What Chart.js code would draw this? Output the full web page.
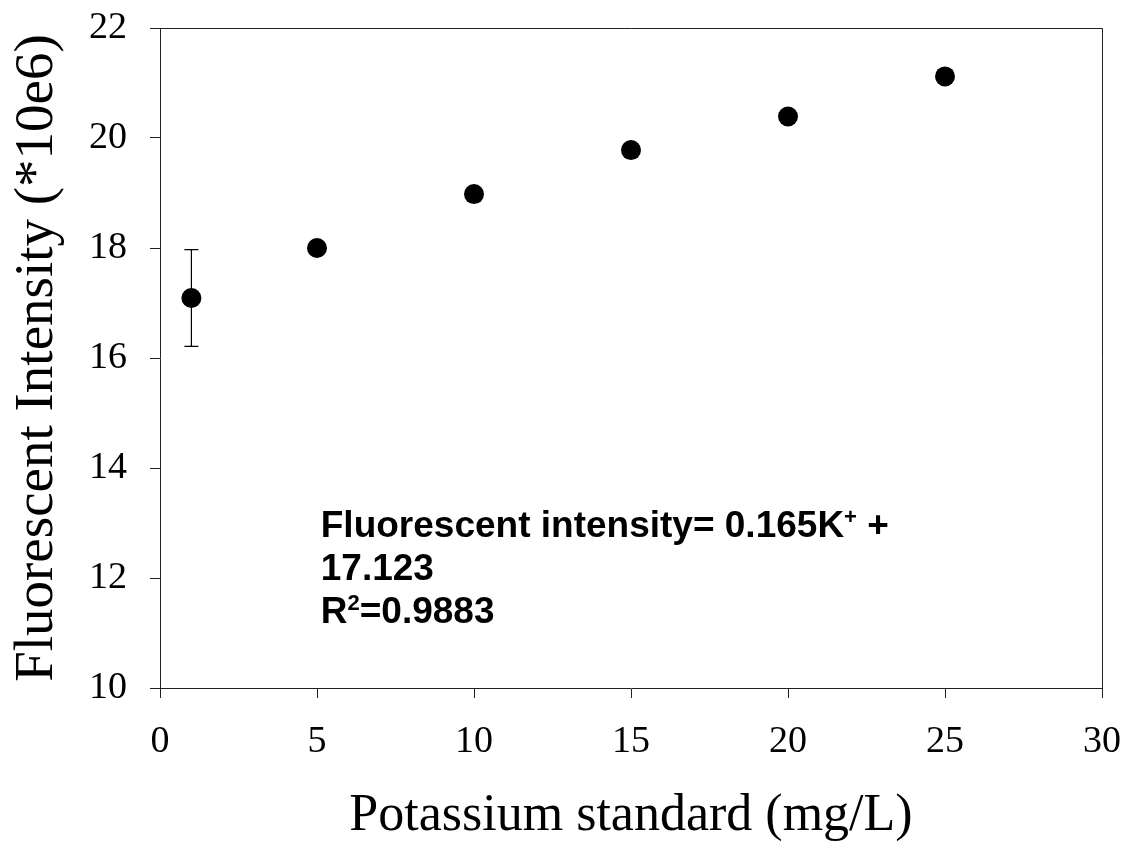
<!DOCTYPE html>
<html>
<head>
<meta charset="utf-8">
<script src="https://cdn.jsdelivr.net/npm/chart.js@4/dist/chart.umd.min.js"></script>
<style>
  html, body { margin: 0; padding: 0; background: #fff; }
  #wrap { width: 1128px; height: 848px; }
  canvas { display: block; }
</style>
</head>
<body>
<div id="wrap"><canvas id="chart" width="1128" height="848"></canvas></div>
<script>
// Potassium calibration: concentration (mg/L) vs fluorescent intensity (*10e6)
const concentrations = [1, 5, 10, 15, 20, 25];
const intensity = [17.09, 18.0, 18.98, 19.78, 20.39, 21.12];
const intensityError = [0.88, 0, 0, 0, 0, 0];

const xTickValues = [0, 5, 10, 15, 20, 25, 30];
const yTickValues = [10, 12, 14, 16, 18, 20, 22];

const xTitle = 'Potassium standard (mg/L)';
const yTitle = 'Fluorescent Intensity (*10e6)';

// Regression note: each line is a list of [text, isSuperscript] runs
const equationLines = [
  [['Fluorescent intensity= 0.165K', false], ['+', true], [' +', false]],
  [['17.123', false]],
  [['R', false], ['2', true], ['=0.9883', false]]
];
// Anchor of the note in data units (concentration, intensity)
const equationAnchor = { x: 5.12, y: 12.74 };

const SERIF = '"Liberation Serif", "Times New Roman", serif';
const SANS = '"Liberation Sans", Arial, sans-serif';
const AXIS_COLOR = '#222';

// Vertical error bars with end caps
const errorBars = {
  id: 'errorBars',
  beforeDatasetsDraw(chart) {
    const { ctx, scales: { x, y } } = chart;
    ctx.save();
    ctx.strokeStyle = '#000';
    ctx.lineWidth = 1.2;
    concentrations.forEach((c, i) => {
      const e = intensityError[i];
      if (!e) return;
      const px = x.getPixelForValue(c);
      const top = y.getPixelForValue(intensity[i] + e);
      const bot = y.getPixelForValue(intensity[i] - e);
      ctx.beginPath();
      ctx.moveTo(px, top); ctx.lineTo(px, bot);
      ctx.moveTo(px - 7, top); ctx.lineTo(px + 7, top);
      ctx.moveTo(px - 7, bot); ctx.lineTo(px + 7, bot);
      ctx.stroke();
    });
    ctx.restore();
  }
};

// Top and right edges of the plot frame
const frame = {
  id: 'frame',
  afterDraw(chart) {
    const { ctx, chartArea: a } = chart;
    ctx.save();
    ctx.strokeStyle = AXIS_COLOR;
    ctx.lineWidth = 1;
    ctx.beginPath();
    ctx.moveTo(a.left, a.top + 0.5);
    ctx.lineTo(a.right + 0.5, a.top + 0.5);
    ctx.lineTo(a.right + 0.5, a.bottom);
    ctx.stroke();
    ctx.restore();
  }
};

// Regression equation text with superscripts
const equationNote = {
  id: 'equationNote',
  afterDraw(chart) {
    const { ctx, scales: { x, y } } = chart;
    const size = 37;
    const supSize = 22;
    const lineGap = 43;
    const left = x.getPixelForValue(equationAnchor.x);
    const base = y.getPixelForValue(equationAnchor.y);
    ctx.save();
    ctx.fillStyle = '#000';
    ctx.textBaseline = 'alphabetic';
    ctx.textAlign = 'left';
    equationLines.forEach((runs, li) => {
      let cx = left;
      const by = base + li * lineGap;
      runs.forEach(([text, sup]) => {
        ctx.font = 'bold ' + (sup ? supSize : size) + 'px ' + SANS;
        ctx.fillText(text, cx, sup ? by - 13 : by);
        cx += ctx.measureText(text).width;
      });
    });
    ctx.restore();
  }
};

new Chart(document.getElementById('chart'), {
  type: 'scatter',
  data: {
    datasets: [{
      data: concentrations.map((c, i) => ({ x: c, y: intensity[i] })),
      backgroundColor: '#000',
      borderColor: '#000',
      borderWidth: 0,
      pointRadius: 10,
      pointHoverRadius: 10,
      pointStyle: 'circle'
    }]
  },
  options: {
    responsive: false,
    animation: false,
    devicePixelRatio: 1,
    layout: { padding: { top: 28, right: 26, left: 0, bottom: 0 } },
    plugins: { legend: { display: false }, tooltip: { enabled: false } },
    scales: {
      x: {
        type: 'linear',
        min: 0, max: 30,
        afterBuildTicks: s => { s.ticks = xTickValues.map(v => ({ value: v })); },
        afterFit: s => { s.height = 160; s.paddingLeft = 0; s.paddingRight = 0; },
        grid: { display: true, drawOnChartArea: false, drawTicks: true, tickLength: 10, color: AXIS_COLOR, lineWidth: 1 },
        border: { display: true, color: AXIS_COLOR, width: 1 },
        ticks: { font: { family: SERIF, size: 38 }, color: '#000', padding: 21, maxRotation: 0, autoSkip: false },
        title: { display: true, text: xTitle, font: { family: SERIF, size: 52 }, color: '#000', padding: { top: 0, bottom: 0 } }
      },
      y: {
        type: 'linear',
        min: 10, max: 22,
        afterBuildTicks: s => { s.ticks = yTickValues.map(v => ({ value: v })); },
        afterFit: s => { s.width = 160; s.paddingTop = 0; s.paddingBottom = 0; },
        grid: { display: true, drawOnChartArea: false, drawTicks: true, tickLength: 10, color: AXIS_COLOR, lineWidth: 1 },
        border: { display: true, color: AXIS_COLOR, width: 1 },
        ticks: { font: { family: SERIF, size: 38 }, color: '#000', padding: 23, autoSkip: false },
        title: { display: true, text: yTitle, font: { family: SERIF, size: 55 }, color: '#000', padding: { top: 5, bottom: 0 } }
      }
    }
  },
  plugins: [errorBars, frame, equationNote]
});
</script>
</body>
</html>
